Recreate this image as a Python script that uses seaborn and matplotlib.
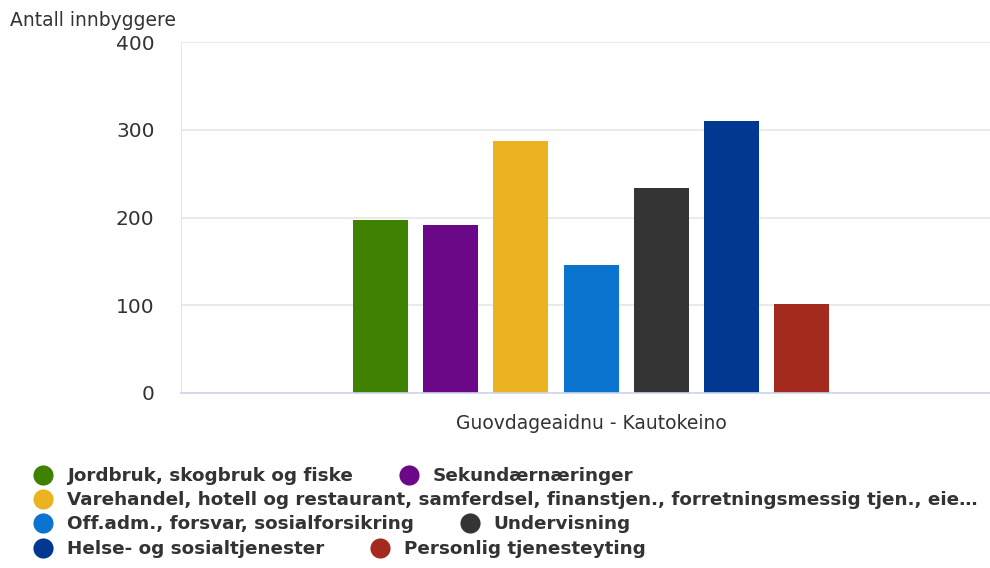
import pandas as pd
import numpy as np
import matplotlib.pyplot as plt
import seaborn as sns
from matplotlib.lines import Line2D

# data
region = 'Guovdageaidnu - Kautokeino'
sektorer = ['Jordbruk, skogbruk og fiske',
            'Sekundærnæringer',
            'Varehandel, hotell og restaurant, samferdsel, finanstjen., forretningsmessig tjen., eie…',
            'Off.adm., forsvar, sosialforsikring',
            'Undervisning',
            'Helse- og sosialtjenester',
            'Personlig tjenesteyting']
antall = [197, 191, 287, 146, 234, 310, 101]
farger = ['#3f8100', '#6a0888', '#ebb320', '#0a74cf', '#353535', '#013890', '#a52a1e']

df = pd.DataFrame({'region': region, 'sektor': sektorer, 'antall': antall})

sns.set_style('white')
plt.rcParams['font.family'] = ['DejaVu Sans']

fig = plt.figure(figsize=(9.9, 5.68), dpi=100)
ax = fig.add_axes([181/990, 175/568, 809/990, (393.3-42.3)/568])

sns.barplot(data=df, x='region', y='antall', hue='sektor', hue_order=sektorer,
            palette=farger, width=0.607, gap=0.216, legend=False, ax=ax,
            edgecolor='none', saturation=1)

ax.set_ylim(0, 400)
ax.set_xlim(-0.5068, 0.4932)
ax.set_yticks([0, 100, 200, 300, 400])
ax.yaxis.grid(True, color='#e6e6e6', linewidth=1.2)
ax.set_axisbelow(True)
ax.set_xlabel('')
ax.set_ylabel('')
for s in ['top', 'right']:
    ax.spines[s].set_visible(False)
ax.spines['left'].set_color('#e6e6e6')
ax.spines['bottom'].set_color('#ccd6eb')
ax.spines['bottom'].set_linewidth(1.2)
ax.tick_params(axis='y', length=0, pad=19, labelsize=14.5, labelcolor='#333333')
ax.tick_params(axis='x', which='major', length=0, pad=15, labelsize=13.5, labelcolor='#333333')
ax.set_xticks([ax.get_xlim()[0]], minor=True)
ax.tick_params(axis='x', which='minor', length=11, color='#ccd6eb', width=1.2)

fig.text(10/990, 1 - 20/568, 'Antall innbyggere', fontsize=13.5, color='#333333',
         ha='left', va='center')

# legend in rows, like the wrapped legend in the reference
rader = [[0, 1], [2], [3, 4], [5, 6]]
rad_y = [476, 500, 524, 549]
for rad, y in zip(rader, rad_y):
    handles = [Line2D([], [], linestyle='none', marker='o', markersize=14.5,
                      markerfacecolor=farger[i], markeredgecolor='none') for i in rad]
    labels = [sektorer[i] for i in rad]
    fig.legend(handles, labels, loc='center left', bbox_to_anchor=(32/990, 1 - y/568),
               ncol=len(rad), frameon=False, borderpad=0, borderaxespad=0,
               handlelength=1.2, handletextpad=0.7, columnspacing=2.45,
               prop={'weight': 'bold', 'size': 13.2}, labelcolor='#333333')

plt.savefig('out.png', dpi=100)
